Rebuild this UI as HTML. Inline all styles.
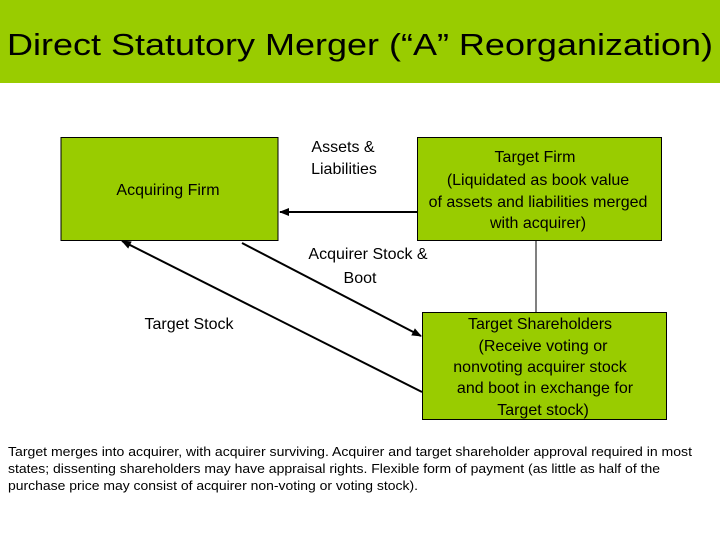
<!DOCTYPE html>
<html><head><meta charset="utf-8"><style>
html,body{margin:0;padding:0;background:#fff;}
svg{display:block;font-family:"Liberation Sans",Arial,sans-serif;}
</style></head><body>
<svg width="720" height="540" viewBox="0 0 720 540" xmlns="http://www.w3.org/2000/svg">
<defs>
<marker id="ah" markerWidth="10" markerHeight="8" refX="9" refY="4" orient="auto" markerUnits="userSpaceOnUse">
<path d="M0,0 L10,4 L0,8 Z" fill="#000"/>
</marker>
</defs>
<rect x="0" y="0" width="720" height="83" fill="#99cc00"/>
<text x="7" y="55" font-size="31" textLength="706" lengthAdjust="spacingAndGlyphs">Direct Statutory Merger (“A” Reorganization)</text>

<rect x="61" y="137.5" width="217" height="103" fill="#99cc00" stroke="#000" stroke-width="1"/>
<rect x="417.5" y="137.5" width="244" height="103" fill="#99cc00" stroke="#000" stroke-width="1"/>
<rect x="422.5" y="312.5" width="244" height="107" fill="#99cc00" stroke="#000" stroke-width="1"/>

<line x1="536" y1="241" x2="536" y2="312" stroke="#000" stroke-width="1"/>
<line x1="417" y1="212" x2="280" y2="212" stroke="#000" stroke-width="2" marker-end="url(#ah)"/>
<line x1="242" y1="243" x2="421" y2="336" stroke="#000" stroke-width="2" marker-end="url(#ah)"/>
<line x1="422" y1="392" x2="122" y2="241" stroke="#000" stroke-width="2" marker-end="url(#ah)"/>

<g font-size="16" text-anchor="middle">
<text x="168" y="195">Acquiring Firm</text>
<text x="343" y="152">Assets &amp;</text>
<text x="344" y="174">Liabilities</text>
<text x="535" y="162">Target Firm</text>
<text x="538" y="185">(Liquidated as book value</text>
<text x="538" y="207">of assets and liabilities merged</text>
<text x="538" y="228">with acquirer)</text>
<text x="368" y="259">Acquirer Stock &amp;</text>
<text x="360" y="283">Boot</text>
<text x="189" y="329">Target Stock</text>
<text x="540" y="329">Target Shareholders</text>
<text x="543" y="351">(Receive voting or</text>
<text x="540" y="372">nonvoting acquirer stock</text>
<text x="545" y="393">and boot in exchange for</text>
<text x="543" y="415">Target stock)</text>
</g>
<g font-size="13">
<text x="8" y="456" textLength="684" lengthAdjust="spacingAndGlyphs">Target merges into acquirer, with acquirer surviving. Acquirer and target shareholder approval required in most</text>
<text x="8" y="473" textLength="652" lengthAdjust="spacingAndGlyphs">states; dissenting shareholders may have appraisal rights. Flexible form of payment (as little as half of the</text>
<text x="8" y="490" textLength="410" lengthAdjust="spacingAndGlyphs">purchase price may consist of acquirer non-voting or voting stock).</text>
</g>
</svg>
</body></html>
